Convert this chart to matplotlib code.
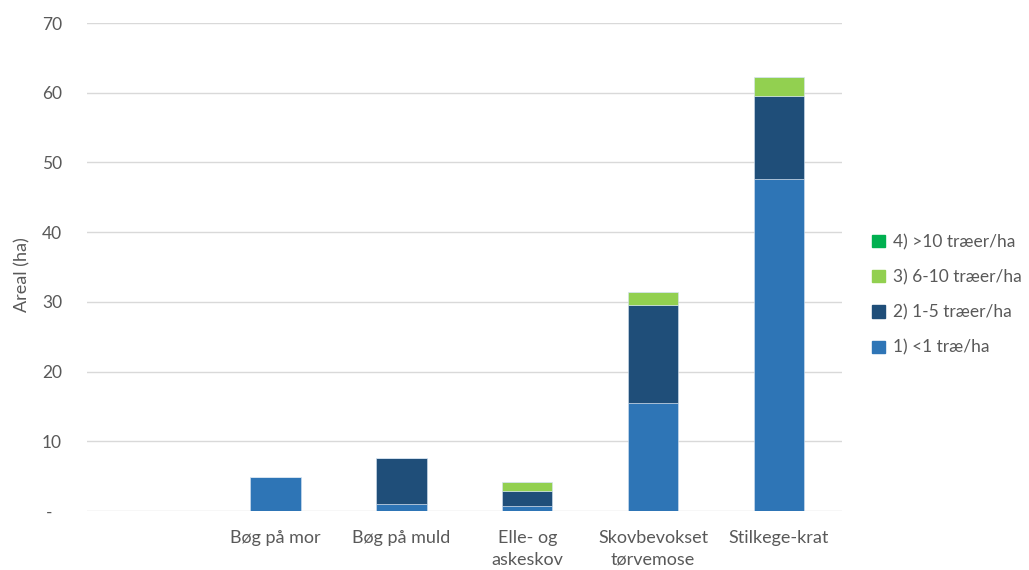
import numpy as np
import matplotlib.pyplot as plt
from matplotlib.ticker import FuncFormatter
from matplotlib.patches import Patch

plt.rcParams['font.family'] = ['Lato', 'DejaVu Sans']

# areal (ha) fordelt på skovtype og antal træer pr. ha
kategorier = ['', 'Bøg på mor', 'Bøg på muld', 'Elle- og\naskeskov',
              'Skovbevokset\ntørvemose', 'Stilkege-krat']
under_1 = [0, 4.9, 1.0, 0.7, 15.5, 47.7]
fra_1_til_5 = [0, 0, 6.6, 2.2, 14.0, 11.9]
fra_6_til_10 = [0, 0, 0, 1.3, 1.9, 2.6]
over_10 = [0, 0, 0, 0, 0, 0]

serier = ['1) <1 træ/ha', '2) 1-5 træer/ha', '3) 6-10 træer/ha', '4) >10 træer/ha']
farver = ['#2E75B6', '#1F4E79', '#92D050', '#00B050']

tekstfarve = '#595959'

fig = plt.figure(figsize=(10.29, 5.70), dpi=100)
ax = fig.add_axes([0.0845, 0.1035, 0.7335, 0.856])

x = np.arange(len(kategorier))
bund = np.zeros(len(kategorier))
for vaerdier, farve in zip([under_1, fra_1_til_5, fra_6_til_10, over_10], farver):
    v = np.array(vaerdier)
    ax.bar(x, v, width=0.4, bottom=bund, color=farve, edgecolor='#D6E4F2',
           linewidth=0.4, zorder=3)
    bund += v

ax.set_xlim(-0.5, len(kategorier) - 0.5)
ax.set_ylim(0, 70)
ax.set_yticks(np.arange(0, 71, 10))
ax.yaxis.set_major_formatter(FuncFormatter(lambda v, p: '-  ' if v == 0 else f'{v:.0f}'))
ax.set_xticks(x)
ax.set_xticklabels(kategorier, linespacing=1.4)

ax.grid(axis='y', color='#D9D9D9', linewidth=1, zorder=0)
for s in ax.spines.values():
    s.set_visible(False)
ax.tick_params(axis='both', length=0, colors=tekstfarve, labelsize=12.5)
ax.tick_params(axis='x', labelsize=13, pad=14)
ax.tick_params(axis='y', pad=18)

ax.set_ylabel('Areal (ha)', color=tekstfarve, fontsize=13)
ax.yaxis.set_label_coords(-0.075, 0.485)

handles = [Patch(color=f) for f in farver][::-1]
ax.legend(handles, serier[::-1], loc='center left', bbox_to_anchor=(1.02, 0.443),
          frameon=False, fontsize=12.5, labelcolor=tekstfarve, handlelength=0.7,
          handleheight=0.7, handletextpad=0.5, labelspacing=1.1)

fig.savefig('out.png', dpi=100)
